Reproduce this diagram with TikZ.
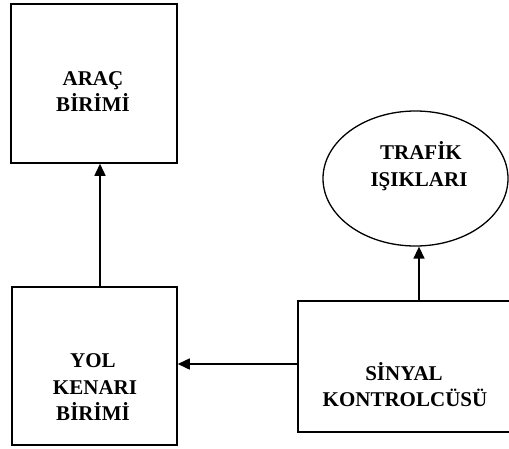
\documentclass[tikz,border=0pt]{standalone}
\usepackage{fontspec}
\setmainfont{Liberation Serif}
\usetikzlibrary{arrows.meta,shapes.geometric}
\begin{document}
\begin{tikzpicture}[x=1pt,y=-1pt,
  block/.style={draw, line width=1.5pt, rectangle, inner sep=0pt},
  oval/.style={draw, line width=1.3pt, ellipse, inner sep=0pt},
  lbl/.style={anchor=base, inner sep=0pt, font=\fontsize{21}{26}\selectfont\bfseries},
  arr/.style={line width=1.5pt, -{Triangle[length=12pt,width=11pt]}}]
\useasboundingbox (0,0) rectangle (509,448);
% boxes
\node[block, minimum width=166pt, minimum height=159pt] (arac) at (94,83.5) {};
\node[block, minimum width=165pt, minimum height=158pt] (yol) at (94.5,366) {};
\node[block, minimum width=216pt, minimum height=131pt] (sinyal) at (406,366.5) {};
\node[oval, minimum width=185pt, minimum height=135pt] (isik) at (415.5,178.5) {};
% labels
\node[lbl] (arac1) at (93,85) {ARAÇ};
\node[lbl] (arac2) at (93,111) {BİRİMİ};
\node[lbl] (yol1) at (93,367) {YOL};
\node[lbl] (yol2) at (95,394) {KENARI};
\node[lbl] (yol3) at (93,420.5) {BİRİMİ};
\node[lbl] (isik1) at (421,159) {TRAFİK};
\node[lbl] (isik2) at (419,186) {IŞIKLARI};
\node[lbl] (sin1) at (404,380) {SİNYAL};
\node[lbl] (sin2) at (405,406.5) {KONTROLCÜSÜ};
% connector guides
\coordinate (ax) at (100,0);
\coordinate (ay) at (0,364);
\coordinate (bx) at (419,0);
% connectors
\draw[arr] (yol.north -| ax) -- (arac.south -| ax);
\draw[arr] (sinyal.west |- ay) -- (yol.east |- ay);
\draw[arr] (sinyal.north -| bx) -- (isik.south -| bx);
\end{tikzpicture}
\end{document}
